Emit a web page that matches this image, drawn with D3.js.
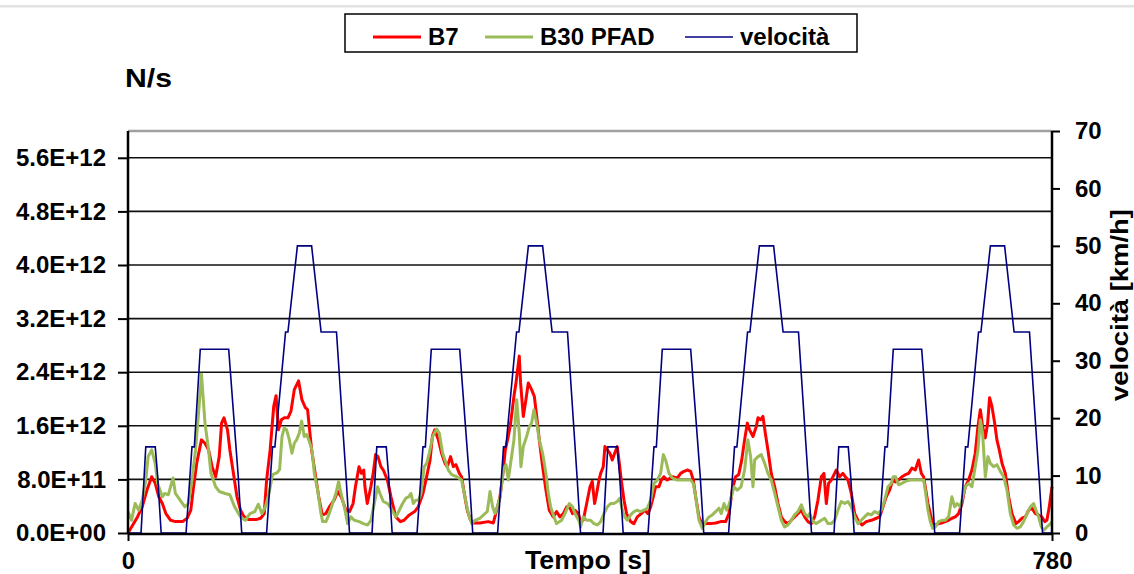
<!DOCTYPE html>
<html>
<head>
<meta charset="utf-8">
<script src="https://cdn.jsdelivr.net/npm/d3@7"></script>
<style>
  html, body { margin: 0; padding: 0; background: #fff; }
  svg { display: block; }
  text { font-family: "Liberation Sans", Arial, sans-serif; font-weight: bold; fill: #000; }
</style>
</head>
<body>
<svg id="chart" width="1134" height="574"></svg>
<script>
// Particle number emission rate (units of 1E11 N/s) over the ECE urban cycle, [time s, value]
const b7 = [
  [0,0],[3,0.9],[8,2.4],[12,3.9],[16,6.4],[20,8.4],[23,7.4],[26,5.4],[29,4.4],[32,2.9],[36,1.9],[40,1.7],[46,1.7],[50,2.2],[53,3.4],[55,6.4],[58,10.4],[62,13.9],[65,13.4],[68,12.4],[71,9.9],[74,8.4],[77,11.4],[79,16.4],[81,17.2],[84,15.4],[86,12.4],[89,8.9],[92,5.4],[95,3.4],[98,2.4],[102,2.0],[108,2.0],[112,2.2],[115,2.9],[117,7.9],[120,12.4],[123,18.9],[125,20.5],[127,15.4],[129.5,16.9],[132,17.2],[135,17.2],[137.6,18.2],[140.4,21.4],[144,22.7],[146.8,19.9],[149.7,18.7],[151.6,18.4],[153,15.9],[155,12.4],[158,8.9],[161,5.4],[164,2.7],[167,2.9],[170,3.9],[174,4.9],[177,6.2],[180,5.4],[184,3.4],[187,3.2],[190,4.4],[192,6.9],[195,9.9],[197,8.9],[199,9.4],[200,6.9],[202,4.4],[205,6.9],[207,8.9],[209,11.7],[211,11.4],[213.5,9.9],[215.5,9.4],[219,7.9],[222,5.4],[226,2.4],[230,1.7],[233,1.9],[237.5,2.7],[242,3.2],[245,3.9],[249,5.9],[251.5,7.9],[255,10.9],[257,14.5],[259,15.4],[262,13.9],[264.7,11.9],[267.6,10.4],[269.5,9.9],[272.3,11.4],[274.6,9.9],[276.8,10.2],[279.7,8.9],[281.6,8.4],[283.9,5.9],[286.4,3.4],[289.2,1.9],[291.5,1.5],[297,1.5],[304,1.7],[308.4,1.5],[311.2,3.4],[314,5.4],[316.2,8.4],[318.5,12.4],[321,14.4],[323,16.4],[325.8,20.4],[327.5,22.4],[330.3,26.4],[331.4,22.4],[333.7,17.4],[335.9,19.9],[337.9,22.4],[340.7,21.4],[343,20.4],[345,17.4],[347.2,13.9],[350,9.9],[352.8,6.4],[355.6,3.4],[359,2.4],[361.8,3.2],[364.6,2.4],[367.5,2.9],[370.3,3.9],[373.1,3.7],[375.3,2.9],[377.3,3.4],[380.1,2.9],[382.1,1.7],[384.3,1.9],[387.2,4.4],[390,6.9],[391.9,7.7],[393.9,4.4],[395.6,5.9],[397.6,7.9],[399,8.9],[401.2,9.9],[402.6,12.9],[404.6,12.4],[406.8,11.9],[408.8,10.9],[410.8,11.9],[413,12.9],[414.4,10.9],[416.4,7.9],[418.7,4.9],[420.9,2.9],[424.3,1.7],[427.1,1.4],[429.9,2.4],[433.3,2.9],[436.1,3.4],[438.9,2.9],[441.2,3.9],[443.4,5.4],[445.4,6.9],[448.2,6.9],[450.2,7.9],[452.4,8.4],[455.2,7.9],[459.5,8.4],[463.7,8.2],[466.5,8.9],[469.3,9.2],[472.1,9.4],[475,9.2],[477.2,7.9],[479.2,5.4],[482,2.4],[484.8,1.2],[487.6,1.4],[491.8,1.4],[496.1,1.5],[500.3,1.7],[504.5,1.7],[507.3,2.9],[510.1,6.4],[512.9,8.4],[515.5,8.7],[518,10.8],[520.5,13.9],[522.8,16.4],[524.7,15.4],[527.6,14.4],[530.4,15.9],[531.8,17.2],[534,16.9],[536,17.4],[538,14.9],[540.2,12.4],[543,8.9],[545.9,6.9],[548.7,4.4],[551.5,2.4],[554.3,1.7],[557.1,1.4],[559.9,1.9],[562.7,2.4],[565.5,2.9],[568.4,3.4],[571.2,2.4],[574,1.7],[576.8,1.4],[579.6,2.4],[582.4,4.9],[585.3,8.4],[587.5,8.9],[589.5,4.4],[591.4,7.4],[593.7,7.9],[596.5,8.9],[597.9,9.4],[600.7,8.4],[603.5,8.9],[605.5,8.4],[607.8,7.9],[610.6,5.9],[613.4,2.9],[616.2,1.9],[619.6,1.2],[623.2,1.7],[627.5,1.9],[631.7,2.2],[634.5,2.4],[637.3,3.9],[640.1,5.4],[642.9,6.4],[645.7,7.9],[648,7.6],[650.5,7.9],[653.3,8.4],[656.2,8.7],[659,8.9],[661.8,9.7],[664.6,9.4],[667.4,10.9],[669.7,8.9],[671.6,8.4],[673,6.9],[675.3,4.4],[677.3,2.9],[679.2,1.4],[681.5,1.2],[684.3,1.4],[687.1,1.5],[689.9,1.7],[692.7,1.9],[695.5,2.2],[698.4,2.4],[701.2,2.9],[704,4.4],[706.8,6.9],[709.6,7.9],[712.4,9.4],[715.2,11.9],[717.5,15.9],[719.5,18.4],[721.4,15.9],[723.7,14.2],[725.7,16.4],[727.3,20.2],[729.3,18.9],[731.6,16.4],[733.5,13.9],[735.5,12.4],[737.8,10.4],[740.6,8.9],[743.4,5.4],[746.2,2.9],[749.6,1.4],[751.8,1.7],[754.6,2.2],[757.5,2.4],[760.3,3.4],[763.1,3.7],[765.9,2.9],[768.7,2.7],[771.5,2.4],[773.8,1.7],[775.7,1.9],[777.7,3.9],[780,6.9]
];

const b30pfad = [
  [0,3.2],[3,1.9],[6,4.4],[9,3.4],[12,4.9],[15,7.9],[17,11.4],[20,12.4],[23,10.4],[25,7.4],[29,5.4],[31,5.9],[34,5.7],[38,8.2],[40,5.9],[44,4.9],[48,3.9],[51,4.4],[54,7.9],[57,12.4],[60,18.9],[62,23.7],[65,16.4],[68,12.4],[70,8.9],[74,6.9],[77,6.2],[82,5.9],[86,5.7],[90,3.9],[95,2.4],[99,1.9],[103,2.9],[107,3.2],[110,4.3],[113,2.9],[116,3.9],[119,5.9],[122,8.7],[126,9.0],[128,9.5],[130,14.4],[131.9,15.7],[133.9,15.4],[136.2,13.9],[138.4,11.9],[140.4,13.4],[142.3,13.9],[144.6,14.9],[146.6,16.7],[148.8,14.4],[150.8,14.7],[153,13.7],[155.3,12.4],[157.3,8.9],[160.1,6.4],[162.9,2.9],[164.3,1.7],[167.1,1.7],[169.9,2.9],[172.7,4.4],[175.5,5.9],[177.8,7.7],[179.8,5.9],[182.6,3.9],[185.4,1.4],[188.2,2.4],[191,1.9],[195.2,1.7],[198.6,1.4],[202.3,1.2],[205.1,1.9],[207.9,4.4],[210.7,6.9],[212.7,5.9],[215.5,4.7],[219.2,4.4],[222,3.7],[226.2,2.4],[229,3.4],[231.8,4.4],[234.6,5.2],[236.9,5.4],[238.9,5.9],[240.8,4.4],[243.1,4.9],[245.3,4.9],[247.3,5.9],[250.1,9.9],[252.1,10.4],[254.3,11.9],[257.2,14.4],[260.5,15.5],[262.8,14.9],[265.6,11.9],[267.6,10.9],[270.4,9.4],[273.2,8.7],[277.4,8.4],[281.6,7.9],[284.4,5.4],[287.3,2.9],[290.1,1.4],[292.9,1.9],[297.1,2.2],[301.3,2.9],[303.3,3.2],[305.6,6.2],[307.8,3.9],[309.8,2.9],[314,5.2],[316.8,9.4],[319.1,10.2],[321,7.9],[323,10.4],[325.8,13.9],[328.1,19.9],[330.3,14.9],[331.7,9.9],[333.7,12.9],[336.5,14.4],[338.8,15.9],[340.7,16.4],[342.7,18.4],[345,16.4],[347.2,13.9],[350,11.9],[352.8,8.9],[354.8,5.9],[356.8,3.9],[359.6,2.4],[361.8,1.4],[366,1.9],[368.9,2.9],[372.5,4.4],[375.3,3.9],[377.3,2.9],[381,1.7],[382.1,0.9],[384.3,2.4],[387.2,1.9],[390.5,1.9],[393.3,1.4],[396.2,1.2],[399,1.7],[401.8,2.9],[404.6,3.9],[407.4,4.4],[410.2,4.4],[413,4.7],[415.3,5.2],[417.3,3.4],[419.2,2.4],[421.5,1.9],[424.3,2.7],[427.1,3.2],[429.9,3.4],[432.7,3.2],[435.5,3.4],[438.4,3.7],[441.2,4.9],[444,7.4],[446.8,7.9],[449.6,8.9],[451.9,11.7],[453.8,10.9],[456.7,8.9],[459.5,8.2],[463.7,7.9],[469.3,7.9],[475,7.9],[477.2,7.4],[479.2,5.4],[482,1.9],[484.8,0.7],[487.6,1.7],[490.4,2.4],[493.2,2.7],[496.1,3.2],[498.9,3.7],[500.8,2.9],[503.1,4.4],[505.3,3.4],[507.3,4.2],[509.3,5.4],[511.5,6.9],[514.3,6.4],[517.5,6.9],[520.5,9.4],[523.3,13.9],[525.6,11.4],[527.6,6.9],[529,10.9],[531.8,11.4],[534.6,11.7],[537.4,10.4],[540.2,8.9],[543,7.9],[545.9,5.9],[548.7,3.9],[551.5,1.9],[554.3,0.9],[557.1,1.2],[559.9,1.9],[562.7,2.7],[565.5,3.2],[568.4,4.2],[571.2,2.9],[574,2.4],[575.4,2.9],[578.2,1.7],[581,1.4],[585.3,1.9],[588.1,2.2],[590.9,1.4],[593.7,1.4],[596.5,1.9],[599.3,3.4],[602.1,4.7],[605,4.4],[607.8,4.7],[610.6,3.9],[613.4,2.4],[616.2,1.4],[619,1.9],[621.8,2.4],[624.6,2.9],[627.5,2.7],[630.3,3.2],[633.1,2.9],[635.9,3.4],[638.7,4.9],[641.5,6.9],[644.3,7.4],[646,8.4],[648,8.4],[650.5,7.2],[653.3,7.4],[656.2,7.7],[660.4,7.9],[664.6,7.9],[668.8,7.9],[671.6,7.9],[673,6.4],[675.3,3.4],[677.3,1.7],[679.2,0.7],[681.5,0.9],[684.3,1.7],[687.1,1.9],[689.9,1.9],[692.7,2.4],[695.5,5.4],[697.8,3.9],[699.8,4.4],[702.6,3.9],[704.6,5.4],[706.8,6.9],[709.6,7.4],[712.4,6.9],[715.2,9.9],[717.5,12.4],[719.5,16.9],[721.4,14.9],[723.7,8.4],[725.9,11.4],[727.9,10.4],[730.7,9.9],[733.5,10.2],[736.4,9.2],[739.2,8.4],[742,6.4],[744.8,2.9],[747.6,1.2],[750.4,0.7],[753.2,0.9],[756,1.7],[758.9,2.9],[761.7,3.9],[764.5,4.4],[766.5,3.4],[768.7,2.4],[771,0.9],[772.9,0.4],[775.7,0.9],[777.7,1.2],[780,1.7]
];

// Vehicle speed (km/h): four repetitions of the ECE-15 urban cycle, [time s, speed]
const velocita = [
  [0,0],[11,0],[15,15],[23,15],[25,10],[28,0],[49,0],[54,15],[56,15],[61,32],[85,32],[93,10],[96,0],[117,0],[122,15],[124,15],[133,35],[135,35],[143,50],[155,50],[163,35],[176,35],[184,10],[187,0],
  [206,0],[210,15],[218,15],[220,10],[223,0],[244,0],[249,15],[251,15],[256,32],[280,32],[288,10],[291,0],[312,0],[317,15],[319,15],[328,35],[330,35],[338,50],[350,50],[358,35],[371,35],[379,10],[382,0],
  [401,0],[405,15],[413,15],[415,10],[418,0],[439,0],[444,15],[446,15],[451,32],[475,32],[483,10],[486,0],[507,0],[512,15],[514,15],[523,35],[525,35],[533,50],[545,50],[553,35],[566,35],[574,10],[577,0],
  [596,0],[600,15],[608,15],[610,10],[613,0],[634,0],[639,15],[641,15],[646,32],[670,32],[678,10],[681,0],[702,0],[707,15],[709,15],[718,35],[720,35],[728,50],[740,50],[748,35],[761,35],[769,10],[772,0],[780,0]
];

const UNIT = 1e11;                         // emission values are stored in 1E11 N/s
const leftTicks = [0, 8, 16, 24, 32, 40, 48, 56];   // x 1E11 N/s
const rightTicks = [0, 10, 20, 30, 40, 50, 60, 70]; // km/h
const timeTicks = [0, 780];

const seriesNames = ["B7", "B30 PFAD", "velocità"];
const seriesColors = ["#ff0000", "#9bbb59", "#000080"];

const svg = d3.select("#chart");
const W = 1134, H = 574;
const plot = { left: 128, right: 1052, top: 131, bottom: 533 };
const FONT = "Liberation Sans, Arial, sans-serif";

svg.append("rect").attr("width", W).attr("height", H).attr("fill", "#fff");
// thin separator rule along the top edge
svg.append("rect").attr("x", 0).attr("y", 5).attr("width", W).attr("height", 2.5).attr("fill", "#e2e2e2");

const x = d3.scaleLinear().domain([0, 780]).range([plot.left, plot.right]);
const yL = d3.scaleLinear().domain([0, 60 * UNIT]).range([plot.bottom, plot.top]);
const yR = d3.scaleLinear().domain([0, 70]).range([plot.bottom, plot.top]);

function sciLabel(v) {
  const [m, e] = v.toExponential(1).split("e");
  const sign = e[0] === "-" ? "-" : "+";
  const digits = e.replace(/[+-]/, "").padStart(2, "0");
  return m + "E" + sign + digits;
}

// horizontal gridlines
svg.append("g")
  .selectAll("line")
  .data(leftTicks.filter(d => d > 0))
  .join("line")
  .attr("x1", plot.left).attr("x2", plot.right)
  .attr("y1", d => yL(d * UNIT)).attr("y2", d => yL(d * UNIT))
  .attr("stroke", "#111").attr("stroke-width", 1.6);

// top border of plot area
svg.append("line")
  .attr("x1", plot.left).attr("x2", plot.right)
  .attr("y1", plot.top).attr("y2", plot.top)
  .attr("stroke", "#a0a0a0").attr("stroke-width", 2.5);

// series lines
const lineEm = d3.line().x(d => x(d[0])).y(d => yL(d[1] * UNIT));
const lineV = d3.line().x(d => x(d[0])).y(d => yR(d[1]));

svg.append("path").datum(b7).attr("d", lineEm)
  .attr("fill", "none").attr("stroke", seriesColors[0]).attr("stroke-width", 3).attr("stroke-linejoin", "round");
svg.append("path").datum(b30pfad).attr("d", lineEm)
  .attr("fill", "none").attr("stroke", seriesColors[1]).attr("stroke-width", 3).attr("stroke-linejoin", "round");
svg.append("path").datum(velocita).attr("d", lineV)
  .attr("fill", "none").attr("stroke", seriesColors[2]).attr("stroke-width", 1.6);

function styleTicks(g) {
  g.selectAll(".tick line").attr("stroke", "#000").attr("stroke-width", 2);
  g.selectAll(".tick text").attr("font-size", 24).attr("font-family", FONT).attr("font-weight", "bold");
}

// left axis
const axL = svg.append("g").attr("transform", `translate(${plot.left},0)`)
  .call(d3.axisLeft(yL).tickValues(leftTicks.map(d => d * UNIT)).tickFormat(sciLabel).tickSize(10).tickPadding(12));
axL.select(".domain").attr("stroke", "#000").attr("stroke-width", 2.5)
  .attr("d", `M0,${plot.top}V${plot.bottom + 1}`);
styleTicks(axL);

// right axis
const axR = svg.append("g").attr("transform", `translate(${plot.right},0)`)
  .call(d3.axisRight(yR).tickValues(rightTicks).tickSize(8).tickPadding(15));
axR.select(".domain").attr("stroke", "#000").attr("stroke-width", 2.5)
  .attr("d", `M0,${plot.top}V${plot.bottom + 1}`);
styleTicks(axR);

// bottom axis
const axB = svg.append("g").attr("transform", `translate(0,${plot.bottom + 1})`)
  .call(d3.axisBottom(x).tickValues(timeTicks).tickFormat(d3.format("d")).tickSize(7).tickPadding(11));
axB.select(".domain").attr("stroke", "#000").attr("stroke-width", 2.5)
  .attr("d", `M${plot.left},0H${plot.right}`);
styleTicks(axB);

// axis titles
svg.append("text").attr("x", 125).attr("y", 87).attr("font-size", 26)
  .attr("textLength", 47).attr("lengthAdjust", "spacingAndGlyphs").text("N/s");
svg.append("text").attr("x", 588).attr("y", 569)
  .attr("text-anchor", "middle").attr("font-size", 25)
  .attr("textLength", 126).attr("lengthAdjust", "spacingAndGlyphs").text("Tempo [s]");
svg.append("text")
  .attr("transform", `translate(1128,305) rotate(-90)`)
  .attr("text-anchor", "middle").attr("font-size", 24)
  .attr("textLength", 192).attr("lengthAdjust", "spacingAndGlyphs").text("velocità [km/h]");

// legend
const legend = svg.append("g");
legend.append("rect").attr("x", 345).attr("y", 14).attr("width", 512).attr("height", 38)
  .attr("fill", "#fff").attr("stroke", "#000").attr("stroke-width", 1.5);
const legendItems = [
  { name: seriesNames[0], color: seriesColors[0], x1: 373, width: 3 },
  { name: seriesNames[1], color: seriesColors[1], x1: 485, width: 3 },
  { name: seriesNames[2], color: seriesColors[2], x1: 685, width: 1.6 }
];
legendItems.forEach(it => {
  legend.append("line").attr("x1", it.x1).attr("x2", it.x1 + 48).attr("y1", 37).attr("y2", 37)
    .attr("stroke", it.color).attr("stroke-width", it.width);
  legend.append("text").attr("x", it.x1 + 55).attr("y", 45).attr("font-size", 24).text(it.name);
});
</script>
</body>
</html>
